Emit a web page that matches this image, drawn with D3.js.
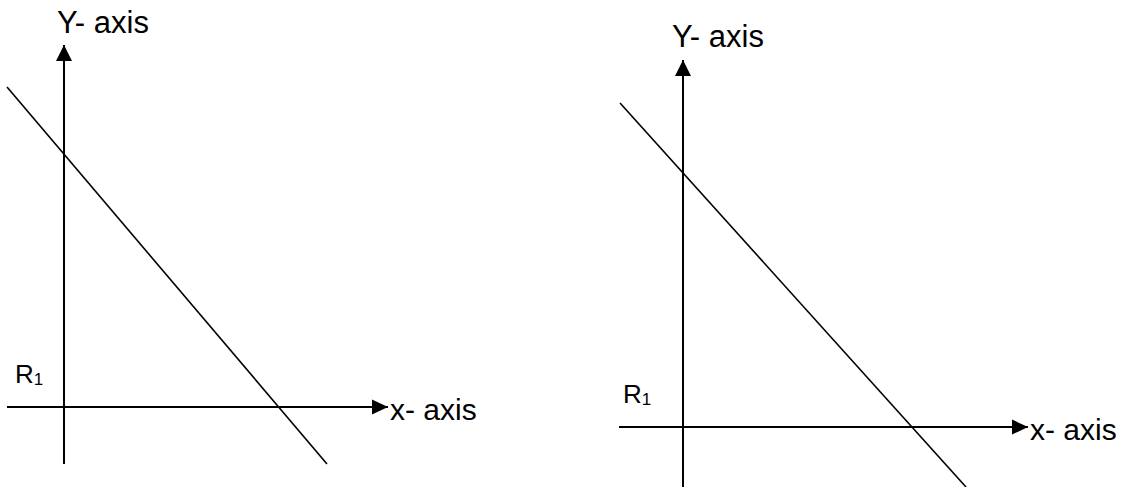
<!DOCTYPE html>
<html>
<head>
<meta charset="utf-8">
<script src="https://cdn.jsdelivr.net/npm/d3@7"></script>
<style>
  body { margin: 0; background: #fff; }
  text { font-family: Arial, "Liberation Sans", sans-serif; fill: #000; }
</style>
</head>
<body>
<div id="chart"></div>
<script>
// axis extents, in drawing units (origin where the axes cross)
const xDomainLeft = [-5.7, 32.4];
const yDomainLeft = [-5.7, 36.2];
const xDomainRight = [-6.4, 34.5];
const yDomainRight = [-6.0, 36.7];

// the sloping line in each panel
const lineLeft = [{ x: -5.7, y: 32.0 }, { x: 26.3, y: -5.7 }];
const lineRight = [{ x: -6.3, y: 32.4 }, { x: 28.3, y: -6.0 }];

// labels
const yLabel = 'Y- axis';
const xLabel = 'x- axis';
const originLabel = ['R', '1'];

const width = 1142;
const height = 487;

const svg = d3.select('#chart').append('svg')
    .attr('width', width)
    .attr('height', height);

// arrowhead markers
const defs = svg.append('defs');
defs.append('marker')
    .attr('id', 'arrowUp')
    .attr('markerUnits', 'userSpaceOnUse')
    .attr('markerWidth', 18).attr('markerHeight', 18)
    .attr('viewBox', '-9 0 18 18')
    .attr('refX', 0).attr('refY', 0)
    .attr('orient', 0)
    .append('path')
    .attr('d', 'M0,0 L8,16 L-8,16 Z')
    .attr('fill', '#000');
defs.append('marker')
    .attr('id', 'arrowRight')
    .attr('markerUnits', 'userSpaceOnUse')
    .attr('markerWidth', 18).attr('markerHeight', 18)
    .attr('viewBox', '-18 -9 18 18')
    .attr('refX', 0).attr('refY', 0)
    .attr('orient', 0)
    .append('path')
    .attr('d', 'M0,0 L-16,-7.5 L-16,7.5 Z')
    .attr('fill', '#000');

function drawPanel(xDomain, yDomain, lineData, layout) {
    const xScale = d3.scaleLinear().domain(xDomain).range(layout.xRange);
    const yScale = d3.scaleLinear().domain(yDomain).range(layout.yRange);
    const g = svg.append('g');

    // vertical axis with arrow at the top
    g.append('line')
        .attr('x1', xScale(0)).attr('y1', yScale(yDomain[0]))
        .attr('x2', xScale(0)).attr('y2', yScale(yDomain[1]))
        .attr('stroke', '#000').attr('stroke-width', 2)
        .attr('marker-end', 'url(#arrowUp)');

    // horizontal axis with arrow at the right
    g.append('line')
        .attr('x1', xScale(xDomain[0])).attr('y1', yScale(0))
        .attr('x2', xScale(xDomain[1])).attr('y2', yScale(0))
        .attr('stroke', '#000').attr('stroke-width', 2)
        .attr('marker-end', 'url(#arrowRight)');

    // sloping line
    const line = d3.line().x(d => xScale(d.x)).y(d => yScale(d.y));
    g.append('path')
        .datum(lineData)
        .attr('d', line)
        .attr('fill', 'none')
        .attr('stroke', '#000')
        .attr('stroke-width', 1.6);

    // axis labels
    g.append('text')
        .attr('x', xScale(0) + layout.yLabelDx)
        .attr('y', yScale(yDomain[1]) + layout.yLabelDy)
        .style('font-size', '31px')
        .text(yLabel);

    g.append('text')
        .attr('x', xScale(xDomain[1]) + 2)
        .attr('y', yScale(0) + 13)
        .style('font-size', '30px')
        .text(xLabel);

    const r = g.append('text')
        .attr('x', xScale(0) + layout.rDx)
        .attr('y', yScale(0) + layout.rDy)
        .style('font-size', '26px')
        .text(originLabel[0]);
    r.append('tspan')
        .attr('dy', 2)
        .style('font-size', '17px')
        .text(originLabel[1]);
}

drawPanel(xDomainLeft, yDomainLeft, lineLeft, {
    xRange: [7, 388], yRange: [464, 45],
    yLabelDx: -7, yLabelDy: -12, rDx: -49, rDy: -24
});
drawPanel(xDomainRight, yDomainRight, lineRight, {
    xRange: [619, 1028], yRange: [487, 60],
    yLabelDx: -11, yLabelDy: -13, rDx: -60, rDy: -24
});
</script>
</body>
</html>
